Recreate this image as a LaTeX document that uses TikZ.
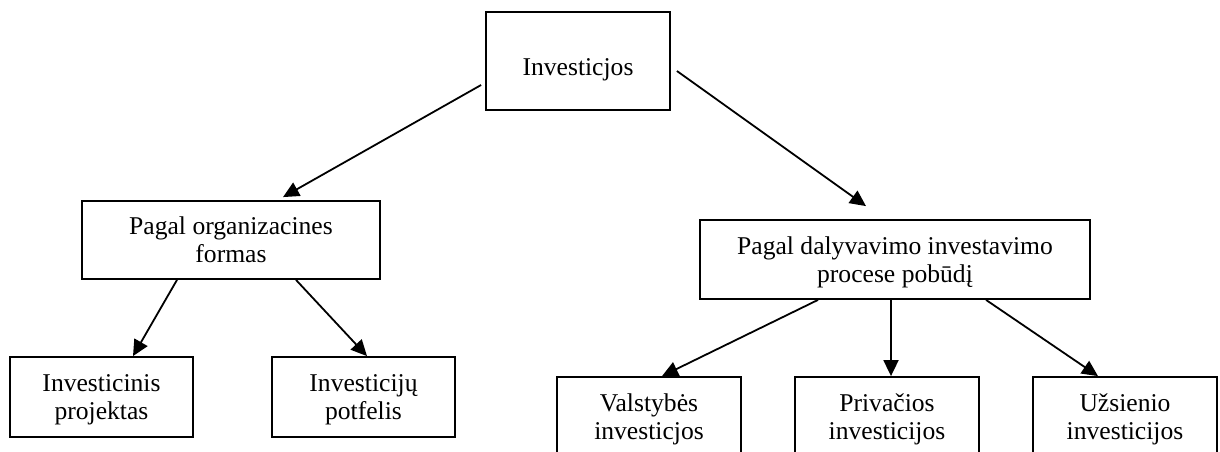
\documentclass[tikz,border=0pt]{standalone}
\usepackage{fontspec}
\setmainfont{Liberation Serif}
\usetikzlibrary{arrows.meta}
\newcommand{\twolines}[2]{\raisebox{-3pt}[\height][\depth]{\begin{tabular}{@{}c@{}}#1\\#2\end{tabular}}}
\begin{document}
\begin{tikzpicture}[x=1pt,y=-1pt,
  box/.style={draw, line width=1.8pt, align=center, inner sep=0pt,
    font=\fontsize{25.6}{28}\selectfont},
  arr/.style={line width=1.8pt, -{Triangle[length=16pt,width=15pt]}}]
\useasboundingbox (0,0) rectangle (1220,452);
\clip (0,0) rectangle (1220,452);
\node[box, minimum width=184pt, minimum height=98pt] (top) at (578,61) {\raisebox{-9pt}[\height][\depth]{Investicjos}};
\node[box, minimum width=298pt, minimum height=78pt] (lmid) at (231,240) {\twolines{Pagal organizacines}{formas}};
\node[box, minimum width=390pt, minimum height=79pt] (rmid) at (895,259.5) {\twolines{Pagal dalyvavimo investavimo}{procese pobūdį}};
\node[box, minimum width=183pt, minimum height=80pt] (b1) at (101.5,397) {\twolines{Investicinis}{projektas}};
\node[box, minimum width=183pt, minimum height=80pt] (b2) at (363.5,397) {\twolines{Investicijų}{potfelis}};
\node[box, minimum width=184pt, minimum height=80pt] (b3) at (649,417) {\twolines{Valstybės}{investicjos}};
\node[box, minimum width=184pt, minimum height=80pt] (b4) at (887,417) {\twolines{Privačios}{investicijos}};
\node[box, minimum width=184pt, minimum height=80pt] (b5) at (1125,417) {\twolines{Užsienio}{investicijos}};
\draw[arr] ([shift={(-4,24)}]top.west) -- ([shift={(52,-3)}]lmid.north);
\draw[arr] ([shift={(6,10)}]top.east) -- ([shift={(-29,-13)}]rmid.north);
\draw[arr] ([xshift=-54pt]lmid.south) -- ([xshift=31.5pt]b1.north);
\draw[arr] ([xshift=65pt]lmid.south) -- ([xshift=3.5pt]b2.north);
\draw[arr] ([xshift=-77pt]rmid.south) -- ([xshift=13pt]b3.north);
\draw[arr] ([xshift=-4pt]rmid.south) -- ([xshift=4pt]b4.north);
\draw[arr] ([xshift=91pt]rmid.south) -- ([xshift=-27pt]b5.north);
\end{tikzpicture}
\end{document}
